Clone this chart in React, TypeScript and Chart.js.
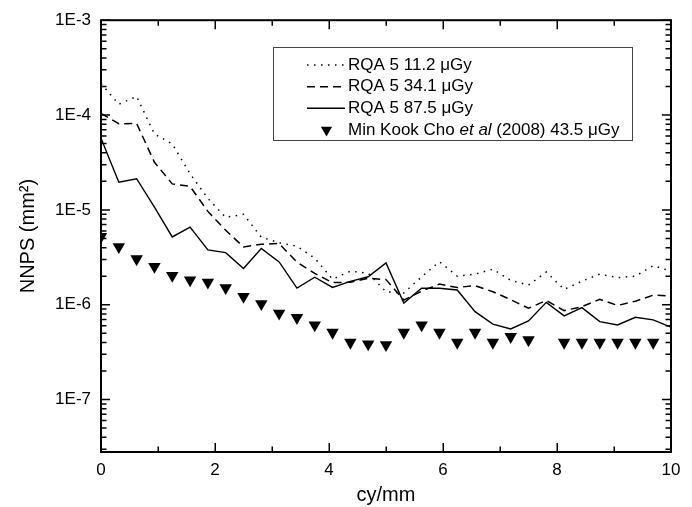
import React, { useEffect, useRef } from 'react';
import { Chart, registerables } from 'chart.js';

Chart.register(...registerables);

// spatial frequency (cy/mm)
const freq = [
  0, 0.3125, 0.625, 0.9375, 1.25, 1.5625, 1.875, 2.1875, 2.5, 2.8125, 3.125,
  3.4375, 3.75, 4.0625, 4.375, 4.6875, 5, 5.3125, 5.625, 5.9375, 6.25, 6.5625,
  6.875, 7.1875, 7.5, 7.8125, 8.125, 8.4375, 8.75, 9.0625, 9.375, 9.6875, 10,
];

// RQA 5 11.2 uGy (dotted)
const rqa11 = [
  2.15e-4, 1.3e-4, 1.57e-4, 6.31e-5, 4.96e-5, 2.41e-5, 1.32e-5, 8.34e-6, 8.97e-6,
  5.15e-6, 4.51e-6, 4.14e-6, 3.1e-6, 1.86e-6, 2.26e-6, 2.15e-6, 1.37e-6, 1.33e-6,
  1.97e-6, 2.84e-6, 2.0e-6, 2.1e-6, 2.37e-6, 1.81e-6, 1.61e-6, 2.21e-6, 1.45e-6,
  1.77e-6, 2.1e-6, 1.93e-6, 2.0e-6, 2.58e-6, 2.26e-6,
];

// RQA 5 34.1 uGy (dashed)
const rqa34 = [
  1.04e-4, 8.09e-5, 8.16e-5, 3.18e-5, 1.88e-5, 1.77e-5, 9.64e-6, 6.09e-6, 4.07e-6,
  4.34e-6, 4.42e-6, 2.81e-6, 2.14e-6, 1.71e-6, 1.73e-6, 1.9e-6, 1.84e-6, 1.12e-6,
  1.39e-6, 1.65e-6, 1.52e-6, 1.59e-6, 1.37e-6, 1.13e-6, 9.18e-7, 1.11e-6, 8.67e-7,
  9.54e-7, 1.14e-6, 9.82e-7, 1.09e-6, 1.26e-6, 1.24e-6,
];

// RQA 5 87.5 uGy (solid)
const rqa87 = [
  5.7e-5, 1.96e-5, 2.13e-5, 1.07e-5, 5.18e-6, 6.59e-6, 3.79e-6, 3.54e-6, 2.41e-6,
  3.92e-6, 2.83e-6, 1.5e-6, 1.95e-6, 1.52e-6, 1.76e-6, 1.97e-6, 2.76e-6, 1.04e-6,
  1.49e-6, 1.49e-6, 1.43e-6, 8.45e-7, 6.24e-7, 5.56e-7, 6.75e-7, 1.06e-6, 7.62e-7,
  9.31e-7, 6.64e-7, 6.12e-7, 7.38e-7, 6.92e-7, 5.8e-7,
];

// Min Kook Cho et al (2008) 43.5 uGy (triangles)
const cho2008 = [
  5.22e-6, 4.08e-6, 3.04e-6, 2.53e-6, 2.03e-6, 1.82e-6, 1.72e-6, 1.51e-6, 1.22e-6,
  1.02e-6, 8.1e-7, 7.3e-7, 6.1e-7, 5.1e-7, 4.0e-7, 3.85e-7, 3.78e-7, 5.1e-7,
  6.1e-7, 5.1e-7, 4.0e-7, 5.1e-7, 4.0e-7, 4.6e-7, 4.25e-7, null, 4.0e-7,
  4.0e-7, 4.0e-7, 4.0e-7, 4.0e-7, 4.0e-7, null,
];

const xTicks = [0, 2, 4, 6, 8, 10];
const xMinorTicks = [1, 3, 5, 7, 9];
const yTicks = [1e-7, 1e-6, 1e-5, 1e-4, 1e-3];
const Y_MIN = 2.8e-8;
const Y_MAX = 1e-3;

const legendLabels = [
  'RQA 5 11.2 \u03bcGy',
  'RQA 5 34.1 \u03bcGy',
  'RQA 5 87.5 \u03bcGy',
];
const choLabelParts = ['Min Kook Cho ', 'et al', ' (2008) 43.5 \u03bcGy'];

const FONT = "'Liberation Sans', Arial, Helvetica, sans-serif";

const toPoints = (vals: (number | null)[]) =>
  freq.map((x, i) => ({ x, y: vals[i] }));

const framePlugin = {
  id: 'frameTicks',
  afterDatasetsDraw(chart: any) {
    const { ctx, chartArea } = chart;
    const { left, right, top, bottom } = chartArea;
    const xs = chart.scales.x;
    const ys = chart.scales.y;
    const major = 9;
    const minor = 5.5;
    ctx.save();
    ctx.strokeStyle = '#000';
    ctx.lineWidth = 1.5;
    ctx.beginPath();
    const xt = (v: number, len: number) => {
      const px = Math.round(xs.getPixelForValue(v)) + 0.25;
      ctx.moveTo(px, bottom);
      ctx.lineTo(px, bottom - len);
      ctx.moveTo(px, top);
      ctx.lineTo(px, top + len);
    };
    const yt = (v: number, len: number) => {
      const py = ys.getPixelForValue(v);
      ctx.moveTo(left, py);
      ctx.lineTo(left + len, py);
      ctx.moveTo(right, py);
      ctx.lineTo(right - len, py);
    };
    xTicks.forEach((v) => xt(v, major));
    xMinorTicks.forEach((v) => xt(v, minor));
    yTicks.forEach((v) => yt(v, major));
    for (let e = -8; e <= -4; e++) {
      for (let m = 2; m <= 9; m++) {
        const v = m * Math.pow(10, e);
        if (v > Y_MIN && v < Y_MAX) yt(v, minor);
      }
    }
    ctx.stroke();
    ctx.lineWidth = 2;
    ctx.strokeRect(left, top, right - left, bottom - top);
    ctx.restore();
  },
};

const legendPlugin = {
  id: 'customLegend',
  afterDraw(chart: any) {
    const { ctx } = chart;
    const bx = 273;
    const by = 47;
    const bw = 359;
    const bh = 93;
    ctx.save();
    ctx.fillStyle = '#fff';
    ctx.fillRect(bx, by, bw, bh);
    ctx.strokeStyle = '#444';
    ctx.lineWidth = 1;
    ctx.strokeRect(bx + 0.5, by + 0.5, bw, bh);

    const rows = [65, 86.7, 108.3, 130];
    const sx0 = 307;
    const sx1 = 345;
    const tx = 348;
    const dashes = [[1.5, 5.5], [8, 5], []];
    ctx.strokeStyle = '#000';
    ctx.lineWidth = 1.5;
    for (let i = 0; i < 3; i++) {
      ctx.setLineDash(dashes[i]);
      ctx.beginPath();
      ctx.moveTo(sx0, rows[i]);
      ctx.lineTo(sx1, rows[i]);
      ctx.stroke();
    }
    ctx.setLineDash([]);
    // triangle marker
    const cx = 326.5;
    const cy = rows[3];
    const r = 6.5;
    ctx.fillStyle = '#000';
    ctx.beginPath();
    ctx.moveTo(cx - r * 0.866, cy - r / 2);
    ctx.lineTo(cx + r * 0.866, cy - r / 2);
    ctx.lineTo(cx, cy + r);
    ctx.closePath();
    ctx.fill();

    ctx.fillStyle = '#000';
    ctx.textBaseline = 'middle';
    ctx.textAlign = 'left';
    ctx.font = `17px ${FONT}`;
    for (let i = 0; i < 3; i++) ctx.fillText(legendLabels[i], tx, rows[i]);
    let x = tx;
    choLabelParts.forEach((t, i) => {
      ctx.font = i === 1 ? `italic 17px ${FONT}` : `17px ${FONT}`;
      ctx.fillText(t, x, rows[3]);
      x += ctx.measureText(t).width;
    });
    ctx.restore();
  },
};

export default function App() {
  const ref = useRef<HTMLCanvasElement | null>(null);

  useEffect(() => {
    if (!ref.current) return;
    Chart.defaults.font.family = FONT;
    const chart = new Chart(ref.current, {
      type: 'scatter',
      data: {
        datasets: [
          {
            label: legendLabels[0],
            data: toPoints(rqa11),
            showLine: true,
            borderColor: '#000',
            borderWidth: 1.5,
            borderDash: [1.5, 5.5],
            pointRadius: 0,
            clip: 0,
          },
          {
            label: legendLabels[1],
            data: toPoints(rqa34),
            showLine: true,
            borderColor: '#000',
            borderWidth: 1.5,
            borderDash: [8, 5],
            pointRadius: 0,
            clip: 0,
          },
          {
            label: legendLabels[2],
            data: toPoints(rqa87),
            showLine: true,
            borderColor: '#000',
            borderWidth: 1.4,
            pointRadius: 0,
            clip: 0,
          },
          {
            label: choLabelParts.join(''),
            data: toPoints(cho2008),
            showLine: false,
            pointStyle: 'triangle',
            rotation: 180,
            pointRadius: 7.2,
            backgroundColor: '#000',
            borderColor: '#000',
            borderWidth: 0,
            clip: 0,
          },
        ] as any,
      },
      options: {
        animation: false,
        responsive: true,
        maintainAspectRatio: false,
        layout: { padding: { left: 0, right: 21, top: 19, bottom: 0 } },
        plugins: {
          legend: { display: false },
          tooltip: { enabled: false },
        },
        scales: {
          x: {
            type: 'linear',
            min: 0,
            max: 10,
            grid: { display: false, drawTicks: false },
            border: { display: false },
            ticks: {
              color: '#000',
              font: { size: 17 },
              padding: 8,
              maxRotation: 0,
              autoSkip: false,
            },
            title: {
              display: true,
              text: 'cy/mm',
              color: '#000',
              font: { size: 20 },
              padding: { top: 0, bottom: 0 },
            },
            afterBuildTicks: (s: any) => {
              s.ticks = xTicks.map((v) => ({ value: v }));
            },
            afterFit: (s: any) => {
              s.height = 55;
            },
          },
          y: {
            type: 'logarithmic',
            min: Y_MIN,
            max: Y_MAX,
            grid: { display: false, drawTicks: false },
            border: { display: false },
            ticks: {
              color: '#000',
              font: { size: 17 },
              padding: 10,
              autoSkip: false,
              callback: (v: any) => '1E' + Math.round(Math.log10(Number(v))),
            },
            title: {
              display: true,
              text: 'NNPS (mm\u00b2)',
              color: '#000',
              font: { size: 20 },
              padding: { top: 16, bottom: 0 },
            },
            afterBuildTicks: (s: any) => {
              s.ticks = yTicks.map((v) => ({ value: v }));
            },
            afterFit: (s: any) => {
              s.width = 101;
            },
          },
        },
      } as any,
      plugins: [framePlugin, legendPlugin],
    });
    return () => chart.destroy();
  }, []);

  return (
    <div
      style={{
        position: 'absolute',
        left: 0,
        top: 0,
        width: 692,
        height: 507,
        background: '#fff',
      }}
    >
      <canvas ref={ref} />
    </div>
  );
}
